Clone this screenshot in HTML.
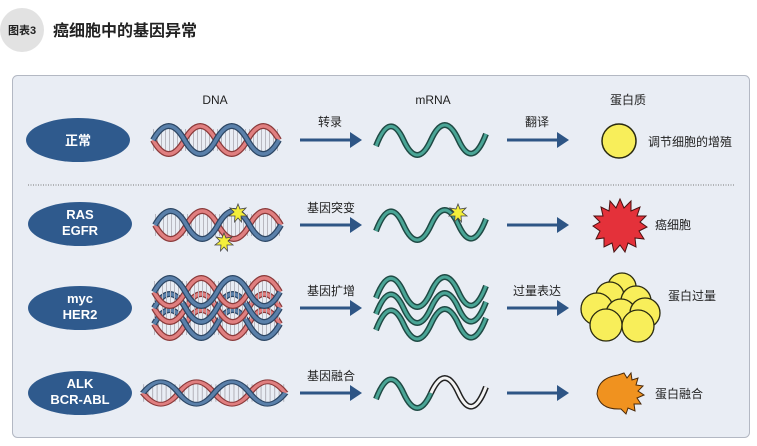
<!DOCTYPE html>
<html><head><meta charset="utf-8"><style>
html,body{margin:0;padding:0;background:#fff;}
svg{display:block;}
text{font-family:"Liberation Sans","Noto Sans CJK SC",sans-serif;}
</style></head><body>
<svg width="757" height="446" viewBox="0 0 757 446" xmlns="http://www.w3.org/2000/svg">
<defs>
  <g id="helix">
    <line x1="0" y1="0" x2="126" y2="0" stroke="#b8b8c0" stroke-width="22" stroke-dasharray="1 3"/>
    <path d="M0,0 Q15.75,28 31.5,0 T63,0 T94.5,0 T126,0" fill="none" stroke="#8a3a3a" stroke-width="6"/>
    <path d="M0,0 Q15.75,28 31.5,0 T63,0 T94.5,0 T126,0" fill="none" stroke="#e07f80" stroke-width="3.5"/>
    <path d="M0,0 Q15.75,-28 31.5,0 T63,0 T94.5,0 T126,0" fill="none" stroke="#2c4664" stroke-width="6"/>
    <path d="M0,0 Q15.75,-28 31.5,0 T63,0 T94.5,0 T126,0" fill="none" stroke="#5a80aa" stroke-width="3.5"/>
  </g>
  <g id="wave">
    <path d="M0,6 Q13.75,-30 27.5,0 T55,0 T82.5,0 T110,-6" fill="none" stroke="#1f4a44" stroke-width="6"/>
    <path d="M0,6 Q13.75,-30 27.5,0 T55,0 T82.5,0 T110,-6" fill="none" stroke="#4aa596" stroke-width="3"/>
  </g>
  <g id="arr">
    <line x1="0" y1="0" x2="52" y2="0" stroke="#2e5585" stroke-width="3"/>
    <polygon points="50,-8 62,0 50,8" fill="#2e5585"/>
  </g>
  <g id="spark">
    <polygon points="0,-9 2,-4 8,-5 4,-1 9,3 3,3 3.5,9 0,5 -3.5,9 -3,3 -9,3 -4,-1 -8,-5 -2,-4" fill="#f4ef3a" stroke="#444" stroke-width="0.8"/>
  </g>
</defs>

<circle cx="22" cy="30" r="22" fill="#e2e2e2"/>
<text x="8" y="34" font-size="11" font-weight="bold" fill="#222">图表3</text>
<text x="53" y="36" font-size="16" font-weight="bold" fill="#222">癌细胞中的基因异常</text>

<rect x="12.5" y="75.5" width="737" height="362" rx="5" fill="#e9edf4" stroke="#b3b8c3"/>

<text x="215" y="104" font-size="12" text-anchor="middle" fill="#222">DNA</text>
<text x="433" y="104" font-size="12" text-anchor="middle" fill="#222">mRNA</text>
<text x="628" y="104" font-size="12" text-anchor="middle" fill="#222">蛋白质</text>

<!-- Row 1 -->
<ellipse cx="78" cy="140" rx="52" ry="22" fill="#2f5a8d"/>
<text x="78" y="145" font-size="13" font-weight="bold" fill="#fff" text-anchor="middle">正常</text>
<use href="#helix" x="153" y="140"/>
<use href="#arr" x="300" y="140"/>
<text x="330" y="126" font-size="12" text-anchor="middle" fill="#222">转录</text>
<use href="#wave" x="376" y="140"/>
<use href="#arr" x="507" y="140"/>
<text x="537" y="126" font-size="12" text-anchor="middle" fill="#222">翻译</text>
<circle cx="619" cy="141" r="17" fill="#f8ee5a" stroke="#2a2a10" stroke-width="1.5"/>
<text x="648" y="146" font-size="12" fill="#222">调节细胞的增殖</text>

<line x1="28" y1="185" x2="735" y2="185" stroke="#777" stroke-width="1" stroke-dasharray="1 1.5"/>

<!-- Row 2 -->
<ellipse cx="80" cy="224" rx="52" ry="22" fill="#2f5a8d"/>
<text x="80" y="219" font-size="13" font-weight="bold" fill="#fff" text-anchor="middle">RAS</text>
<text x="80" y="235" font-size="13" font-weight="bold" fill="#fff" text-anchor="middle">EGFR</text>
<use href="#helix" x="155" y="225"/>
<use href="#spark" x="238" y="213"/>
<use href="#spark" x="224" y="242"/>
<use href="#arr" x="300" y="225"/>
<text x="331" y="212" font-size="12" text-anchor="middle" fill="#222">基因突变</text>
<use href="#wave" x="376" y="225"/>
<use href="#spark" x="458" y="213"/>
<use href="#arr" x="507" y="225"/>
<polygon fill="#e4313a" stroke="#4a1010" stroke-width="1" points="620,199 624,208 631,201 631,211 640,207 637,216 646,216 640,222 647,227 639,231 644,239 635,238 636,247 628,243 625,252 620,245 614,252 612,243 604,247 604,238 596,239 600,231 593,226 600,222 594,216 603,216 601,207 609,211 610,201 616,208"/>
<text x="655" y="229" font-size="12" fill="#222">癌细胞</text>

<!-- Row 3 -->
<ellipse cx="80" cy="308" rx="52" ry="22" fill="#2f5a8d"/>
<text x="80" y="303" font-size="13" font-weight="bold" fill="#fff" text-anchor="middle">myc</text>
<text x="80" y="319" font-size="13" font-weight="bold" fill="#fff" text-anchor="middle">HER2</text>
<use href="#helix" x="154" y="324"/>
<use href="#helix" x="154" y="308"/>
<use href="#helix" x="154" y="292"/>
<use href="#arr" x="300" y="308"/>
<text x="331" y="295" font-size="12" text-anchor="middle" fill="#222">基因扩增</text>
<use href="#wave" x="376" y="324"/>
<use href="#wave" x="376" y="308"/>
<use href="#wave" x="376" y="292"/>
<use href="#arr" x="507" y="308"/>
<text x="537" y="295" font-size="12" text-anchor="middle" fill="#222">过量表达</text>
<g fill="#f8ee5a" stroke="#2a2a10" stroke-width="1.3">
<circle cx="622" cy="287" r="14"/>
<circle cx="610" cy="296" r="14"/>
<circle cx="636" cy="301" r="15"/>
<circle cx="597" cy="309" r="16"/>
<circle cx="621" cy="314" r="15"/>
<circle cx="645" cy="313" r="15"/>
<circle cx="606" cy="325" r="16"/>
<circle cx="638" cy="326" r="16"/>
</g>
<text x="668" y="300" font-size="12" fill="#222">蛋白过量</text>

<!-- Row 4 -->
<ellipse cx="80" cy="393" rx="52" ry="22" fill="#2f5a8d"/>
<text x="80" y="388" font-size="13" font-weight="bold" fill="#fff" text-anchor="middle">ALK</text>
<text x="80" y="404" font-size="13" font-weight="bold" fill="#fff" text-anchor="middle">BCR-ABL</text>
<g transform="translate(143,393) scale(1.13,0.8)"><use href="#helix"/></g>
<use href="#arr" x="300" y="393"/>
<text x="331" y="380" font-size="12" text-anchor="middle" fill="#222">基因融合</text>
<path d="M376,399 Q389.75,363 403.5,393 T431,393" fill="none" stroke="#1f4a44" stroke-width="6"/>
<path d="M376,399 Q389.75,363 403.5,393 T431,393" fill="none" stroke="#4aa596" stroke-width="3"/>
<path d="M431,393 Q444.75,363 458.5,393 T486,387" fill="none" stroke="#222" stroke-width="6"/>
<path d="M431,393 Q444.75,363 458.5,393 T486,387" fill="none" stroke="#f4f4f4" stroke-width="3"/>
<use href="#arr" x="507" y="393"/>
<path d="M624,373 L627,378 L631,373 L632,380 L638,378 L636,385 L643,386 L638,391 L644,395 L637,398 L641,404 L634,404 L635,411 L628,408 L626,414 L621,409 Q600,410 597,394 Q598,378 618,375 Z" fill="#f0921f" stroke="#4a2a0a" stroke-width="1"/>
<text x="655" y="398" font-size="12" fill="#222">蛋白融合</text>
</svg>
</body></html>
